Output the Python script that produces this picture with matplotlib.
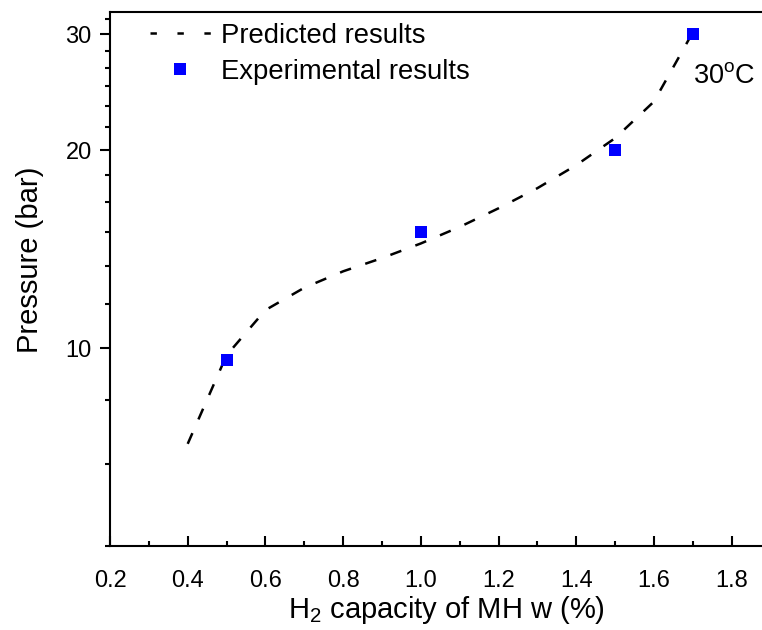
import matplotlib
matplotlib.use("Agg")
import matplotlib.pyplot as plt
from matplotlib.ticker import FixedLocator, FixedFormatter, NullFormatter
from matplotlib.lines import Line2D

plt.rcParams['font.family'] = ['Liberation Sans', 'DejaVu Sans']
plt.rcParams['mathtext.fontset'] = 'custom'
plt.rcParams['mathtext.rm'] = 'Liberation Sans'
plt.rcParams['mathtext.it'] = 'Liberation Sans:italic'
plt.rcParams['lines.scale_dashes'] = False

# Model prediction (dashed curve)
x_pred = [0.4, 0.5, 0.6, 0.7, 0.8, 0.9, 1.0, 1.1, 1.2, 1.3, 1.4, 1.5, 1.6, 1.7]
p_pred = [7.15, 9.75, 11.42, 12.35, 13.08, 13.7, 14.42, 15.28, 16.31, 17.5,
          18.97, 20.85, 23.7, 30.2]

# Measured points
x_exp = [0.5, 1.0, 1.5, 1.7]
p_exp = [9.6, 15.0, 20.0, 30.0]

x_major = [0.2, 0.4, 0.6, 0.8, 1.0, 1.2, 1.4, 1.6, 1.8]
x_labels = ['0.2', '0.4', '0.6', '0.8', '1.0', '1.2', '1.4', '1.6', '1.8']
x_minor = [0.3, 0.5, 0.7, 0.9, 1.1, 1.3, 1.5, 1.7]
y_major = [10, 20, 30]
y_labels = ['10', '20', '30']
y_minor = [5, 6.667, 8.333, 11.667, 13.333, 15, 16.667, 18.333,
           21.667, 23.333, 25, 26.667, 28.333, 31.667]

W, H = 762, 630
fig = plt.figure(figsize=(W / 100, H / 100), dpi=100)
ax = fig.add_axes([110 / W, (H - 546) / H, (W - 110) / W, (546 - 11.7) / H])

ax.plot(x_pred, p_pred, color='black', lw=1.8, dashes=(8.4, 10.8))
ax.plot(x_exp, p_exp, linestyle='none', marker='s', markersize=8.6,
        color='#0000ff', markeredgewidth=0)

ax.set_yscale('log')
ax.set_xlim(0.2, 1.878)
ax.set_ylim(5, 32.46)

ax.xaxis.set_major_locator(FixedLocator(x_major))
ax.xaxis.set_major_formatter(FixedFormatter(x_labels))
ax.xaxis.set_minor_locator(FixedLocator(x_minor))
ax.yaxis.set_major_locator(FixedLocator(y_major))
ax.yaxis.set_major_formatter(FixedFormatter(y_labels))
ax.yaxis.set_minor_locator(FixedLocator(y_minor))
ax.yaxis.set_minor_formatter(NullFormatter())

ax.tick_params(axis='x', which='major', direction='in', length=7.2, width=1.5,
               labelsize=17, pad=17)
ax.tick_params(axis='x', which='minor', direction='in', length=3.5, width=1.5)
ax.tick_params(axis='y', which='major', direction='out', length=7.2, width=1.5,
               labelsize=17, pad=6)
ax.tick_params(axis='y', which='minor', direction='out', length=3.5, width=1.5)

for side in ('left', 'bottom', 'top'):
    ax.spines[side].set_linewidth(1.5)
ax.spines['right'].set_visible(False)

ax.set_xlabel(r'H$_2$ capacity of MH w (%)', fontsize=21)
ax.xaxis.set_label_coords(0.516, -0.119)
ax.xaxis.label.set_verticalalignment('center')
ax.set_ylabel('Pressure (bar)', fontsize=21)
ax.yaxis.set_label_coords(-0.1227, 0.535)
ax.yaxis.label.set_verticalalignment('center')

ax.text(1.70, 25.9, r'30$^\mathrm{o}$C', fontsize=19.5, va='center', ha='left')

h_pred = Line2D([], [], color='black', lw=1.8, dashes=(4.6, 14.8))
h_exp = Line2D([], [], linestyle='none', marker='s', markersize=8.6,
               color='#0000ff', markeredgewidth=0)
ax.legend([h_pred, h_exp], ['Predicted results', 'Experimental results'],
          loc='upper left', bbox_to_anchor=((150 - 110) / (W - 110), 0.979),
          frameon=False, fontsize=19.8, handlelength=2.2, handletextpad=0.38,
          borderpad=0, borderaxespad=0, labelspacing=0.36)

fig.savefig('out.png', dpi=100)
